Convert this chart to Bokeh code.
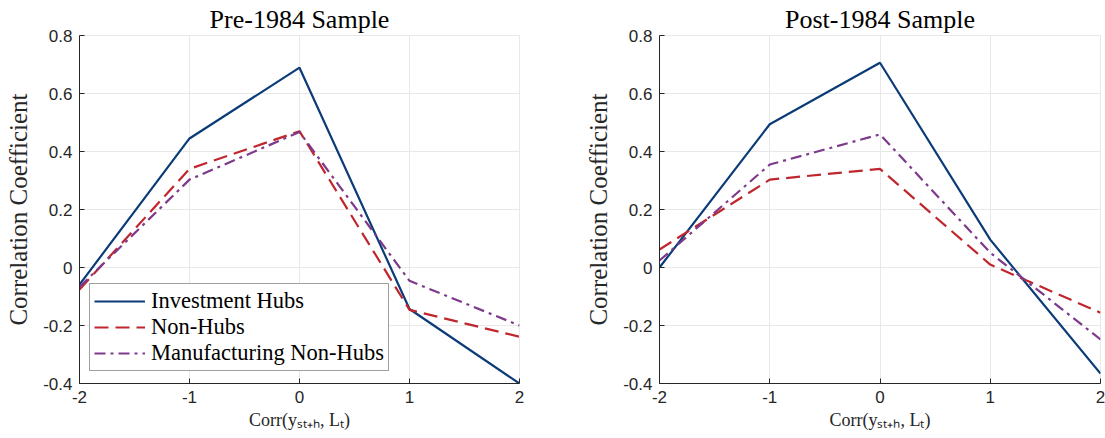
from bokeh.plotting import figure
from bokeh.layouts import row
from bokeh.models import FixedTicker, Legend, LegendItem, Range1d
from bokeh.embed import file_html
from bokeh.resources import INLINE

# ---- data ----
horizons = [-2, -1, 0, 1, 2]
x_ticks = [-2, -1, 0, 1, 2]
y_ticks = [-0.4, -0.2, 0, 0.2, 0.4, 0.6, 0.8]
y_tick_labels = ["-0.4", "-0.2", "0", "0.2", "0.4", "0.6", "0.8"]
x_tick_labels = ["-2", "-1", "0", "1", "2"]

pre_hubs = [-0.059, 0.445, 0.689, -0.143, -0.400]
pre_nonhubs = [-0.076, 0.340, 0.470, -0.146, -0.239]
pre_manuf = [-0.067, 0.303, 0.467, -0.046, -0.200]

post_hubs = [0.000, 0.494, 0.706, 0.096, -0.366]
post_nonhubs = [0.062, 0.303, 0.340, 0.010, -0.156]
post_manuf = [0.024, 0.355, 0.459, 0.051, -0.248]

series_names = ["Investment Hubs", "Non-Hubs", "Manufacturing Non-Hubs"]
titles = ["Pre-1984 Sample", "Post-1984 Sample"]

COLORS = ["#0c3c78", "#c0262d", "#7d3a8c"]
DASHES = ["solid", "14 7", "11 5 3 5"]
SERIF = "Liberation Serif"
SANS = "Liberation Sans"
DARK = "#262626"
GRID = "#e8e8e8"


def make_panel(title, data, border_left, border_right, frame_w, show_legend):
    p = figure(
        frame_width=frame_w, frame_height=348,
        min_border_left=border_left, min_border_right=border_right,
        min_border_top=35, min_border_bottom=55,
        x_range=Range1d(-2, 2), y_range=Range1d(-0.4, 0.8),
        output_backend="svg", toolbar_location=None,
        background_fill_color="white", border_fill_color="white",
    )
    p.title.text = title
    p.title.align = "center"
    p.title.text_font = SERIF
    p.title.text_font_size = "26px"
    p.title.text_font_style = "normal"
    p.title.text_color = "black"
    p.title.standoff = 4

    p.outline_line_color = GRID

    for ax, ticks, labels in ((p.xaxis[0], x_ticks, x_tick_labels), (p.yaxis[0], y_ticks, y_tick_labels)):
        ax.ticker = FixedTicker(ticks=ticks)
        ax.major_label_overrides = {t: l for t, l in zip(ticks, labels)}
        ax.major_tick_in = 5
        ax.major_tick_out = 0
        ax.minor_tick_line_color = None
        ax.axis_line_color = DARK
        ax.major_tick_line_color = DARK
        ax.major_label_text_font = SANS
        ax.major_label_text_font_size = "17px"
        ax.major_label_text_color = DARK
        ax.axis_label_text_font = SERIF
        ax.axis_label_text_font_style = "normal"
        ax.axis_label_text_color = DARK

    p.xaxis.axis_label = "Corr(y\u209b\u209c\u208a\u2095, L\u209c)"
    p.xaxis.axis_label_text_font_size = "18px"
    p.xaxis.axis_label_standoff = 4
    p.xaxis.major_label_standoff = 7
    p.yaxis.axis_label = "Correlation Coefficient"
    p.yaxis.axis_label_text_font_size = "25px"
    p.yaxis.axis_label_standoff = 8
    p.yaxis.major_label_standoff = 7

    p.xgrid.grid_line_color = GRID
    p.ygrid.grid_line_color = GRID
    p.xgrid.ticker = FixedTicker(ticks=x_ticks)
    p.ygrid.ticker = FixedTicker(ticks=y_ticks)

    renderers = []
    for vals, col, dash in zip(data, COLORS, DASHES):
        r = p.line(horizons, vals, line_color=col, line_width=2.2, line_dash=dash)
        renderers.append(r)

    if show_legend:
        items = [LegendItem(label=n, renderers=[r]) for n, r in zip(series_names, renderers)]
        leg = Legend(items=items, location=(10, 12))
        leg.label_text_font = SERIF
        leg.label_text_font_size = "22.5px"
        leg.label_text_line_height = 1.0
        leg.label_text_color = "black"
        leg.glyph_width = 51
        leg.glyph_height = 22
        leg.label_height = 22
        leg.label_standoff = 6
        leg.spacing = 0
        leg.padding = 4
        leg.margin = 0
        leg.border_line_color = "#404040"
        leg.border_line_width = 1
        leg.background_fill_color = "white"
        leg.background_fill_alpha = 1.0
        p.add_layout(leg, "center")
    return p


p1 = make_panel(titles[0], [pre_hubs, pre_nonhubs, pre_manuf], 79, 33, 440, True)
p2 = make_panel(titles[1], [post_hubs, post_nonhubs, post_manuf], 107, 5, 441, False)

layout = row(p1, p2)
open("out.html", "w").write(file_html(layout, INLINE))
